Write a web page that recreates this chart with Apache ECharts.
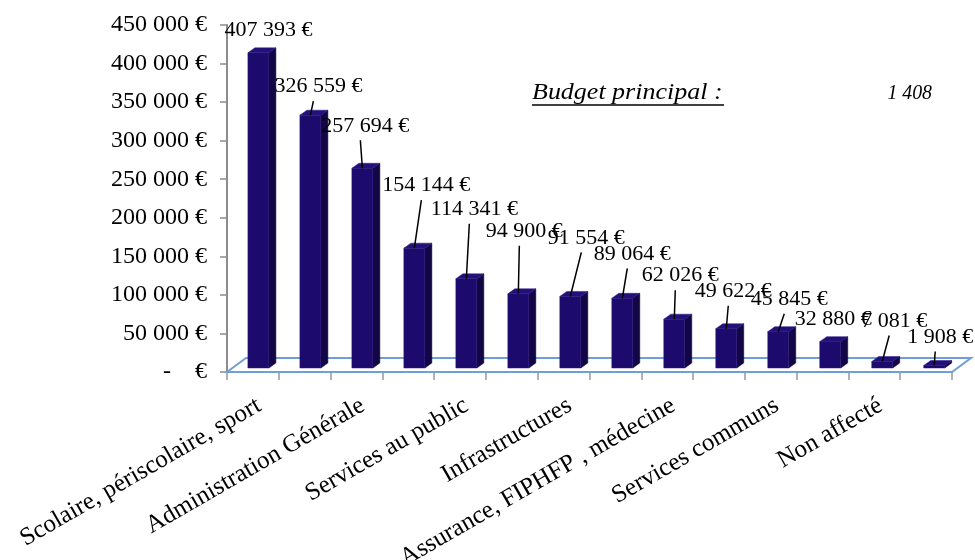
<!DOCTYPE html>
<html>
<head>
<meta charset="utf-8">
<script src="https://cdn.jsdelivr.net/npm/echarts@6/dist/echarts.min.js"></script>
<style>html,body{margin:0;padding:0;background:#fff}#c{width:975px;height:560px}</style>
</head>
<body>
<div id="c"></div>
<script>
// ---- data ----
const categories = ['Scolaire, périscolaire, sport', '', 'Administration Générale', '', 'Services au public', '', 'Infrastructures', '', 'Assurance, FIPHFP , médecine', '', 'Services communs', '', 'Non affecté', ''];
const values = [407393, 326559, 257694, 154144, 114341, 94900, 91554, 89064, 62026, 49622, 45845, 32880, 7081, 1908];
const yTicks = [0, 50000, 100000, 150000, 200000, 250000, 300000, 350000, 400000, 450000];
const titleText = 'Budget principal :';
const totalText = '1 408';

// ---- layout (label placement as in the original, relative to bar tops) ----
const labelOffsets = [[10,-22],[8,-28],[3,-42],[12,-62],[8,-69],[6,-62],[16,-58],[10,-44],[6,-43],[7,-37],[11,-32],[3,-22],[12,-40],[6,-28]];
const leaderShown = [false,true,true,true,true,true,true,true,true,true,true,false,true,true];

const FONT = "'Liberation Serif','Times New Roman',serif";
const NB = '\u00a0';
function fmt(v) {
  if (v === 0) return '-' + NB + NB + NB + NB + '€';
  return String(v).replace(/\B(?=(\d{3})+(?!\d))/g, NB) + NB + '€';
}

const chart = echarts.init(document.getElementById('c'), null, {renderer: 'canvas'});

function renderBar(params, api) {
  const i = api.value(0), v = api.value(1);
  const top = api.coord([i, v]);
  const base = api.coord([i, 0]);
  const c = top[0];
  const L = c - 5 + 0.2 * i, R = L + 21, D = 7, H = 5;
  const yT = top[1] - 5, yB = base[1] - 4;
  const fx = (L + R) / 2;
  const off = labelOffsets[i];
  const lx = fx + off[0], ly = yT + off[1];
  const children = [
    {type: 'polygon', shape: {points: [[R, yT], [R + D, yT - H], [R + D, yB - H], [R, yB]]},
     style: {fill: '#120645', stroke: '#0d0433', lineWidth: 0.5}},
    {type: 'polygon', shape: {points: [[L, yT], [L + D, yT - H], [R + D, yT - H], [R, yT]]},
     style: {fill: '#24107a', stroke: '#2a1a85', lineWidth: 0.5}},
    {type: 'rect', shape: {x: L, y: yT, width: R - L, height: yB - yT},
     style: {fill: '#1c0a6c', stroke: '#2b1a80', lineWidth: 0.5}}
  ];
  if (leaderShown[i]) {
    children.push({type: 'line', shape: {x1: lx - 5, y1: ly + 14, x2: fx, y2: yT},
      style: {stroke: '#000', lineWidth: 1.5}});
  }
  children.push({type: 'text', x: lx, y: ly, scaleX: 1.1, scaleY: 1,
    style: {text: fmt(v), x: 0, y: 0, align: 'center', verticalAlign: 'middle',
      font: '20px ' + FONT, fill: '#000'}});
  return {type: 'group', children: children};
}

function renderFloor(params, api) {
  const cs = params.coordSys;
  const x = cs.x, y = cs.y + cs.height, w = cs.width;
  return {type: 'polygon', shape: {points: [[x, y], [x + 19, y - 14], [x + w + 19, y - 14], [x + w, y]]},
    style: {fill: '#fff', stroke: '#6f9fd8', lineWidth: 2}};
}

chart.setOption({
  backgroundColor: '#fff',
  animation: false,
  grid: {left: 227, right: 23, top: 25, bottom: 188, containLabel: false, outerBoundsMode: 'none'},
  xAxis: {
    type: 'category',
    data: categories,
    boundaryGap: true,
    axisLine: {show: false},
    axisTick: {show: true, alignWithLabel: false, interval: 0, length: 8, lineStyle: {color: '#999', width: 1.5}},
    axisLabel: {interval: 1, rotate: 30, margin: 21, verticalAlign: 'top', color: '#000', fontFamily: FONT, fontSize: 25},
    splitLine: {show: false}
  },
  yAxis: {
    type: 'value',
    min: yTicks[0],
    max: yTicks[yTicks.length - 1],
    interval: yTicks[1] - yTicks[0],
    axisLine: {show: true, lineStyle: {color: '#8c8c8c', width: 2}},
    axisTick: {show: true, length: 7, lineStyle: {color: '#8c8c8c', width: 1.5}},
    axisLabel: {formatter: fmt, margin: 20, color: '#000', fontFamily: FONT, fontSize: 24},
    splitLine: {show: false}
  },
  series: [
    {type: 'custom', renderItem: renderFloor, data: [[0, 0]], z: 1, silent: true, clip: false},
    {type: 'custom', renderItem: renderBar, data: values.map((v, i) => [i, v]), z: 3, clip: false}
  ],
  graphic: [
    {type: 'text', x: 532, y: 93, scaleX: 1.13, z: 10,
     style: {text: titleText, x: 0, y: 0, verticalAlign: 'middle', font: 'italic 23px ' + FONT, fill: '#000'}},
    {type: 'line', z: 10, shape: {x1: 532, y1: 105, x2: 724, y2: 105}, style: {stroke: '#000', lineWidth: 1.5}},
    {type: 'text', x: 932, y: 93, scaleX: 0.9, z: 10,
     style: {text: totalText, x: 0, y: 0, align: 'right', verticalAlign: 'middle', font: 'italic 22px ' + FONT, fill: '#000'}}
  ]
});
</script>
</body>
</html>
